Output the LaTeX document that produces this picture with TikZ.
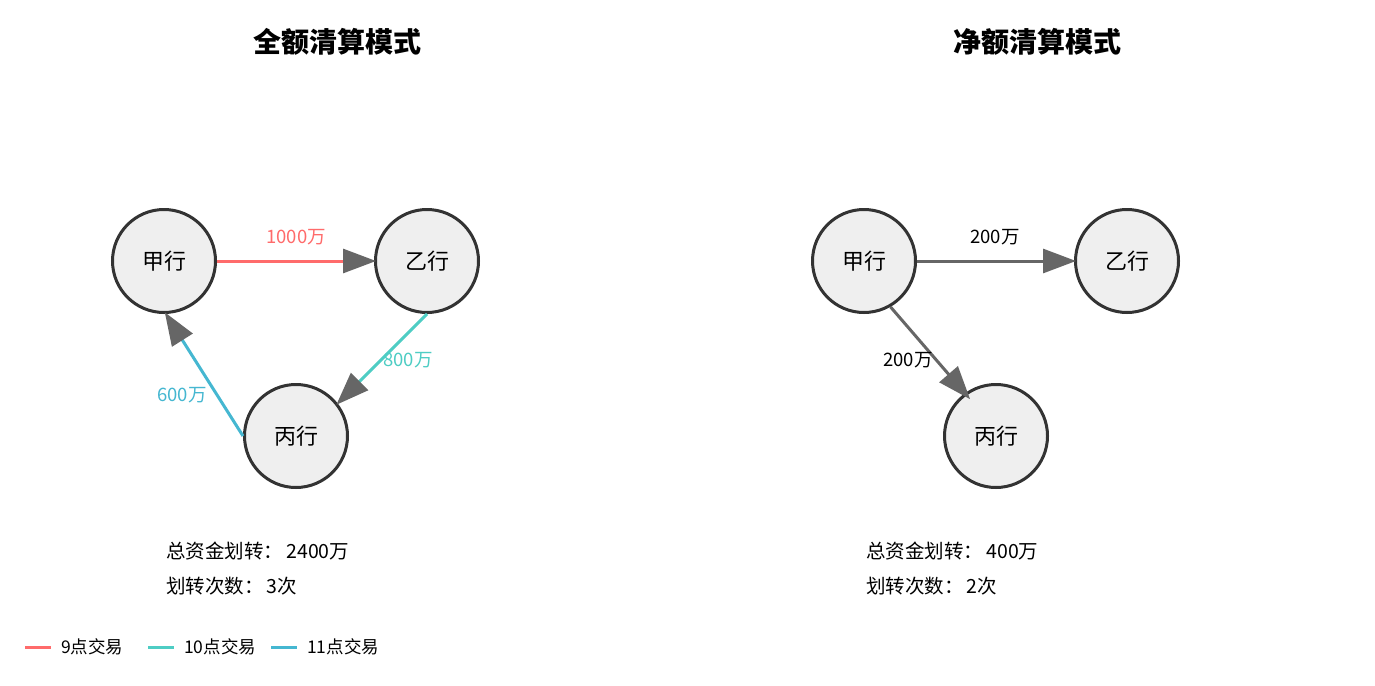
\documentclass[tikz,border=0pt]{standalone}
\usepackage{fontspec}
\setmainfont{Noto Sans CJK SC}
\usepackage{tikz}
\usetikzlibrary{arrows.meta}
\definecolor{nineam}{HTML}{FF6B6B}
\definecolor{tenam}{HTML}{4ECDC4}
\definecolor{elevenam}{HTML}{45B7D1}
\definecolor{tipgray}{HTML}{666666}
\definecolor{ring}{HTML}{333333}
\definecolor{disc}{HTML}{EFEFEF}
\tikzset{
  bank/.style  = {circle, draw=ring, fill=disc, line width=3pt, minimum size=103pt,
                  inner sep=0pt, font=\fontsize{22}{26}\selectfont},
  flow/.style  = {-{Triangle[length=33pt, width=24pt, color=tipgray]}, line width=3pt, draw=#1,
                  shorten >=-2pt},
  amt/.style   = {font=\fontsize{18.5}{22}\selectfont, text=#1, inner sep=1pt},
  hdr/.style   = {font=\fontsize{28}{32}\selectfont\bfseries},
  note/.style  = {anchor=west, font=\fontsize{19.5}{23}\selectfont, inner sep=0pt},
  keytxt/.style= {anchor=west, font=\fontsize{17.5}{20}\selectfont, inner sep=0pt},
}
\begin{document}
\begin{tikzpicture}[x=1pt, y=-1pt]
  \path[use as bounding box, fill=white] (0,0) rectangle (1375,685);

  % gross settlement
  \node[hdr] (grosshdr) at (337,42) {全额清算模式};
  \node[bank] (gjia)  at (164,261) {甲行};
  \node[bank] (gyi)   at (427,261) {乙行};
  \node[bank] (gbing) at (296,436) {丙行};
  \draw[flow=nineam]   (gjia.east)  -- (gyi.west);
  \draw[flow=tenam]    (gyi.south)  -- (gbing.38);
  \draw[flow=elevenam] (gbing.west) -- (gjia.-88);
  \node[amt=nineam]   (g1000) at (296,237) {1000万};
  \node[amt=tenam]    (g800)  at (408,360) {800万};
  \node[amt=elevenam] (g600)  at (182,395) {600万};
  \node[note] (gsum) at (166,551) {总资金划转：\,2400万};
  \node[note] (gcnt) at (166,586) {划转次数：\,3次};

  % net settlement
  \node[hdr] (nethdr) at (1037,42) {净额清算模式};
  \node[bank] (njia)  at (864,261)  {甲行};
  \node[bank] (nyi)   at (1127,261) {乙行};
  \node[bank] (nbing) at (996,436)  {丙行};
  \draw[flow=tipgray] (njia.east) -- (nyi.west);
  \draw[flow=tipgray, shorten >=-8pt] (njia.-60) -- (nbing.126);
  \node[amt=black] (n200a) at (995,237) {200万};
  \node[amt=black] (n200b) at (908,360) {200万};
  \node[note] (nsum) at (866,551) {总资金划转：\,400万};
  \node[note] (ncnt) at (866,586) {划转次数：\,2次};

  % legend
  \foreach \i/\x/\c/\t in {1/25/nineam/9点交易, 2/148/tenam/10点交易, 3/271/elevenam/11点交易} {
    \draw[draw=\c, line width=3pt] (\x,647) -- (\x+26,647);
    \node[keytxt] (key\i) at (\x+36,647) {\t};
  }
\end{tikzpicture}
\end{document}
